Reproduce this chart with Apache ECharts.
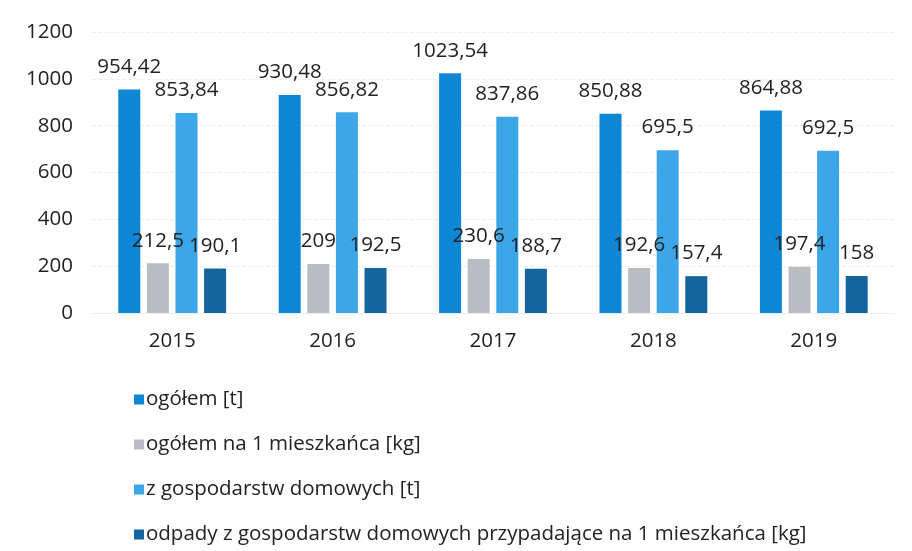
<!DOCTYPE html>
<html>
<head>
<meta charset="utf-8">
<script src="https://cdn.jsdelivr.net/npm/echarts@6/dist/echarts.min.js"></script>
<style>
  html, body { margin: 0; padding: 0; background: #fff; }
  #chart { width: 912px; height: 551px; }
</style>
</head>
<body>
<div id="chart"></div>
<script>
const years = ["2015", "2016", "2017", "2018", "2019"];
const ogolem = [954.42, 930.48, 1023.54, 850.88, 864.88];
const ogolemNaMieszkanca = [212.5, 209, 230.6, 192.6, 197.4];
const gospodarstwa = [853.84, 856.82, 837.86, 695.5, 692.5];
const gospodarstwaNaMieszkanca = [190.1, 192.5, 188.7, 157.4, 158];
const seriesNames = [
  "ogółem [t]",
  "ogółem na 1 mieszkańca [kg]",
  "z gospodarstw domowych [t]",
  "odpady z gospodarstw domowych przypadające na 1 mieszkańca [kg]",
];
const colors = ["#0d86d6", "#b9bdc1", "#3ba7e8", "#14659f"];

const chart = echarts.init(document.getElementById("chart"));
const font = "'Open Sans', sans-serif";
const fs = 20.5;

// wartości z przecinkiem dziesiętnym
const fmt = (v) => String(v).replace(".", ",");

const makeSeries = (name, data, i) => ({
  name: name,
  type: "bar",
  data: data,
  barWidth: 22,
  barGap: "30%",
  itemStyle: { color: colors[i] },
  label: {
    show: true,
    position: "top",
    distance: 12,
    fontFamily: font,
    fontSize: fs,
    color: "#222",
    formatter: (p) => fmt(p.value),
  },
});

const option = {
  animation: false,
  textStyle: { fontFamily: font },
  grid: { left: 92, right: 18, top: 32, bottom: 238 },
  xAxis: {
    type: "category",
    data: years,
    axisLine: { show: true, lineStyle: { color: "#eeeeee" } },
    axisTick: { show: false },
    axisLabel: { color: "#222", fontSize: fs, margin: 18, fontFamily: font },
  },
  yAxis: {
    type: "value",
    min: 0,
    max: 1200,
    interval: 200,
    axisLine: { show: false },
    axisTick: { show: false },
    axisLabel: {
      color: "#222",
      fontSize: fs,
      margin: 19,
      fontFamily: font,
      formatter: (v) => String(v),
    },
    splitLine: { lineStyle: { color: "#eeeeee", type: "dashed" } },
  },
  legend: {
    orient: "vertical",
    left: 129,
    top: 384,
    itemWidth: 10,
    itemHeight: 10,
    itemGap: 24,
    icon: "rect",
    textStyle: { color: "#222", fontSize: fs, fontFamily: font, padding: [0, 0, 0, -3] },
    data: seriesNames,
  },
  series: [
    makeSeries(seriesNames[0], ogolem, 0),
    makeSeries(seriesNames[1], ogolemNaMieszkanca, 1),
    makeSeries(seriesNames[2], gospodarstwa, 2),
    makeSeries(seriesNames[3], gospodarstwaNaMieszkanca, 3),
  ],
};

chart.setOption(option);
</script>
</body>
</html>
